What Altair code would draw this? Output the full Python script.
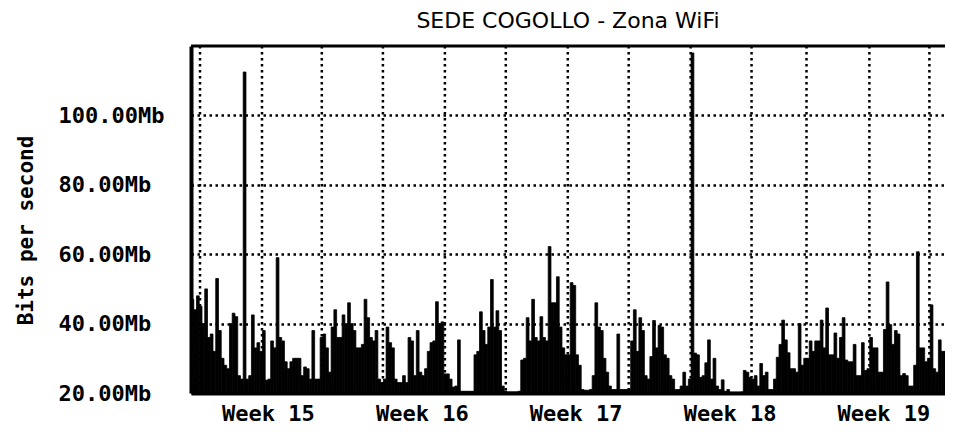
import altair as alt
import pandas as pd

TITLE = "SEDE COGOLLO - Zona WiFi"
Y_TITLE = "Bits per second"

# traffic samples (Mb/s), 8 samples per day (3-hour steps)
SAMPLES_PER_DAY = 8
bps_mb = [
    47, 44, 48, 45, 40, 50, 36, 37,          # day 0
    32, 53, 38, 30, 28, 27, 40, 43,
    42, 25, 24, 112.5, 24, 25, 42.5, 33,
    34.5, 32, 38, 23.7, 24, 35, 33, 59,
    36, 35, 29, 27, 29, 30, 30, 30,
    25, 27.5, 27, 24, 38, 24, 24, 36,
    37, 33, 26, 39, 44, 36, 36, 42.5,
    40, 46, 40, 38, 33, 33, 34, 47,          # day 7
    41.7, 36, 35, 38, 24, 23, 24, 39,
    34.5, 33, 24, 23, 23, 25, 23, 36,
    35, 25, 38, 26, 25, 27, 32, 34.5,
    35, 46.3, 40, 40.5, 25.5, 25.5, 24, 21.7,
    22, 35.3, 20.5, 20.5, 20.5, 20.5, 20.5, 31,
    32, 43.4, 38, 34, 39, 52.7, 39, 43.7,
    38, 22, 20.5, 20.3, 20.3, 20.3, 20.3, 20.5,  # day 14
    29.5, 30, 41.7, 35, 47, 36, 35, 42,
    36, 35, 62.2, 46, 46, 53.5, 39, 33,
    31, 31, 51.8, 51, 31, 28, 21, 20.8,
    20.8, 21, 25, 46, 39, 38, 30, 26,
    22, 21, 21, 37, 21, 21, 21, 21,
    35, 44, 32, 41.7, 38, 25, 24, 30.5,
    40.9, 33, 39.5, 39, 31, 30, 25, 24,      # day 21
    21, 21, 22, 26, 22, 24, 118, 31.5,
    31, 24.5, 25, 28.7, 35.3, 24, 30, 22,
    21, 23.8, 20.5, 21, 20.2, 20.2, 20.2, 20.2,
    20.3, 26.5, 26, 24.5, 24, 25, 22, 28.5,
    25, 26, 21, 21, 24, 30.3, 34, 41,
    35.3, 31.6, 27, 27, 26, 40, 28, 30,
    30, 35, 32, 35, 35, 41, 33, 44.5,        # day 28
    31, 31, 37.3, 30, 36, 41.7, 29.5, 29,
    29, 34, 25, 25, 34.5, 26.5, 27, 36,
    33, 33, 26, 26, 38.3, 52, 39.7, 34,
    38, 37, 25, 25.6, 25, 22, 22, 28,
    60.7, 33, 33, 29, 30, 45.4, 27, 26,
    35.3, 32, 32, 50.3, 36, 36, 30, 30,
]

grid_days = [0.41, 3.23, 5.95, 8.73, 11.55, 14.32, 17.14, 19.91, 22.73,
             25.5, 28.0, 30.86, 33.59]
week_mid_days = [3.5, 10.5, 17.5, 24.5, 31.5]
week_labels = ["Week 15", "Week 16", "Week 17", "Week 18", "Week 19"]
y_ticks = [20, 40, 60, 80, 100]
y_domain = [20, 120]
x_domain = [0, 34.3]

df = pd.DataFrame({
    "t": [k / SAMPLES_PER_DAY for k in range(len(bps_mb))],
    "v": bps_mb,
})
df["t2"] = df["t"] + 1 / SAMPLES_PER_DAY
grid_df = pd.DataFrame({"g": grid_days})
top_df = pd.DataFrame({"top": [y_domain[1]], "title": [TITLE]})

MONO = "DejaVu Sans Mono"
PLOT_W = 754
PLOT_H = 347

week_expr = " : ".join(
    f"datum.value == {m} ? '{l}'" for m, l in zip(week_mid_days, week_labels)
) + " : ''"

xscale = alt.Scale(domain=x_domain, nice=False, zero=False)
yscale = alt.Scale(domain=y_domain, nice=False, zero=False)

x_axis = alt.Axis(
    values=week_mid_days, labelExpr=week_expr, title=None, grid=False,
    ticks=False, domain=True, domainColor="black", domainWidth=4,
    labelFont=MONO, labelFontSize=22, labelFontWeight="bold",
    labelColor="black", labelPadding=10, labelFlush=False, labelOverlap=False,
)
y_axis = alt.Axis(
    values=y_ticks, labelExpr="format(datum.value, '.2f') + 'Mb'",
    title=Y_TITLE, grid=True, gridDash=[2.5, 3.5], gridWidth=2.5,
    gridColor="black", gridOpacity=1, ticks=False, domain=True,
    domainColor="black", domainWidth=4,
    labelAlign="left", labelPadding=133, labelFont=MONO, labelFontSize=22,
    labelFontWeight="bold", labelColor="black", labelFlush=False,
    titleX=-159, titleY=184, titleAngle=270, titleBaseline="alphabetic",
    titleFont=MONO, titleFontSize=21, titleFontWeight="bold",
    titleColor="black",
)

bars = alt.Chart(df).mark_bar(
    color="black", stroke="black", strokeWidth=0.8, clip=True
).encode(
    x=alt.X("t:Q", scale=xscale, axis=x_axis),
    x2="t2:Q",
    y=alt.Y("v:Q", scale=yscale, axis=y_axis),
    y2=alt.datum(y_domain[0]),
)

vgrid = alt.Chart(grid_df).mark_rule(
    color="black", strokeWidth=2.5, strokeDash=[2.5, 3.5]
).encode(x=alt.X("g:Q", scale=xscale, axis=x_axis))

top = alt.Chart(top_df).mark_rule(color="black", strokeWidth=3).encode(
    y=alt.Y("top:Q", scale=yscale, axis=y_axis)
)

title = alt.Chart(top_df).mark_text(
    font="DejaVu Sans", fontSize=22, color="black", align="center",
    baseline="alphabetic",
).encode(
    text="title:N",
    x=alt.value(PLOT_W / 2),
    y=alt.value(-18),
)

chart = alt.layer(vgrid, bars, top, title).properties(
    width=PLOT_W,
    height=PLOT_H,
    autosize=alt.AutoSizeParams(type="none"),
    padding={"left": 183, "top": 38, "right": 0, "bottom": 38},
).configure_view(stroke=None).configure(background="white")

chart.save("out.html", embed_options={"renderer": "svg", "actions": False})
